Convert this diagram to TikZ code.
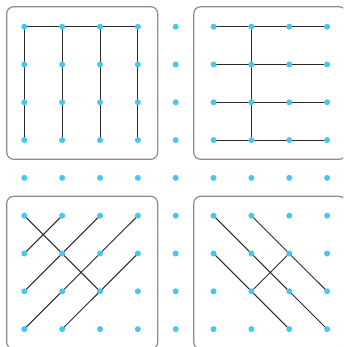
\documentclass[tikz,border=0pt]{standalone}
\definecolor{dotblue}{HTML}{45C8F0}
\definecolor{boxgray}{HTML}{8C8C8C}
\definecolor{linedark}{HTML}{2A2A2A}
\tikzset{
  pegdot/.style={circle,fill=dotblue,inner sep=0pt,minimum size=6pt,draw=none},
  panel/.style={draw=boxgray,line width=1.2pt,rounded corners=7pt},
  band/.style={draw=linedark,line width=1pt}
}
\begin{document}
\begin{tikzpicture}[x=1pt,y=-1pt]
\useasboundingbox (0,0) rectangle (343,347);
\begin{scope}
\clip (0,0) rectangle (343,347);
% panels
\draw[panel] (6.7,6.7) rectangle (157.7,159.3);
\draw[panel] (193.7,6.7) rectangle (346,159.3);
\draw[panel] (6.7,196.3) rectangle (157.7,349);
\draw[panel] (193.7,196.3) rectangle (346,349);
% dot coordinates
\foreach \i in {0,...,8}{
  \foreach \j in {0,...,8}{
    \coordinate (p-\i-\j) at ({24.3+37.85*\i},{26.7+37.8*\j});
  }
}
% top-left
\draw[band] (p-0-0) -- (p-3-0);
\foreach \c in {0,1,2,3}{\draw[band] (p-\c-0) -- (p-\c-3);}
% top-right
\foreach \r in {0,1,2,3}{\draw[band] (p-5-\r) -- (p-8-\r);}
\draw[band] (p-6-0) -- (p-6-3);
% bottom-left
\draw[band] (p-0-5) -- (p-2-7);
\draw[band] (p-1-5) -- (p-0-6);
\draw[band] (p-2-5) -- (p-0-7);
\draw[band] (p-3-5) -- (p-0-8);
\draw[band] (p-3-6) -- (p-1-8);
% bottom-right
\draw[band] (p-5-5) -- (p-8-8);
\draw[band] (p-6-5) -- (p-8-7);
\draw[band] (p-5-6) -- (p-7-8);
\draw[band] (p-7-6) -- (p-6-7);
% dots
\foreach \i in {0,...,8}{
  \foreach \j in {0,...,8}{
    \node[pegdot] (d-\i-\j) at (p-\i-\j) {};
  }
}
\end{scope}
\end{tikzpicture}
\end{document}
